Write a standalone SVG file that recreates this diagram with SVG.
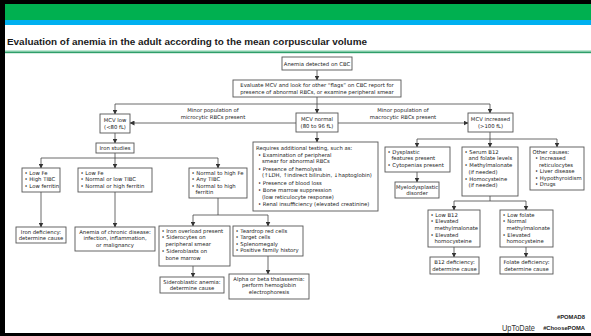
<svg xmlns="http://www.w3.org/2000/svg" width="591" height="336" viewBox="0 0 591 336">
<defs>
<marker id="ah" markerUnits="userSpaceOnUse" markerWidth="5" markerHeight="5" refX="4.5" refY="2.5" orient="auto">
<path d="M0,0 L5,2.5 L0,5 z" fill="#333"/>
</marker>
<style>
.box{fill:#fff;stroke:#555;stroke-width:0.9}
.t{font-family:"DejaVu Sans","Liberation Sans",sans-serif;font-size:5.3px;fill:#1a1a1a}
.c{text-anchor:middle}
.ln{stroke:#444;stroke-width:0.8;fill:none}
.ar{stroke:#444;stroke-width:0.8;fill:none;marker-end:url(#ah)}
.f{font-family:"Liberation Sans",Arial,sans-serif}
</style>
</defs>
<rect x="0" y="0" width="591" height="336" fill="#fff"/>
<rect x="0" y="0" width="591" height="4" fill="#000"/>
<rect x="0" y="4" width="591" height="16" fill="#00b050"/>
<rect x="0" y="20" width="591" height="5" fill="#00b0f0"/>
<rect x="0" y="0" width="5" height="336" fill="#000"/>
<rect x="0" y="333" width="591" height="3" fill="#000"/>
<rect x="5" y="50.5" width="586" height="1.2" fill="#7fcfa8"/>
<rect x="5" y="51.7" width="586" height="1.5" fill="#2e9e6a"/>
<text class="f" x="7" y="45" font-weight="bold" font-size="9" fill="#1a1a1a" textLength="360" lengthAdjust="spacingAndGlyphs">Evaluation of anemia in the adult according to the mean corpuscular volume</text>

<g id="connectors">
<path class="ar" d="M317,70 V80"/>
<path class="ar" d="M317,97 V113"/>
<path class="ln" d="M115,104 H490"/>
<path class="ar" d="M115,104 V114"/>
<path class="ar" d="M490,104 V113"/>
<path class="ar" d="M296,123 H130"/>
<path class="ar" d="M338,123 H468"/>
<path class="ar" d="M115,133 V143"/>
<path class="ln" d="M115,153 V158 M41,158 H218"/>
<path class="ar" d="M41,158 V168"/>
<path class="ar" d="M115,158 V168"/>
<path class="ar" d="M218,158 V168"/>
<path class="ar" d="M41,192 V227"/>
<path class="ar" d="M115,192 V227"/>
<path class="ln" d="M218,198 V215 M193,215 H268"/>
<path class="ar" d="M193,215 V226"/>
<path class="ar" d="M268,215 V226"/>
<path class="ar" d="M193,266 V277"/>
<path class="ar" d="M268,256 V274"/>
<path class="ar" d="M317,132 V142"/>
<path class="ln" d="M490,132 V139 M417,139 H557"/>
<path class="ar" d="M417,139 V147"/>
<path class="ar" d="M490,139 V147"/>
<path class="ar" d="M557,139 V147"/>
<path class="ar" d="M417,172 V182"/>
<path class="ln" d="M490,196 V201 M454,201 H526"/>
<path class="ar" d="M454,201 V210"/>
<path class="ar" d="M526,201 V210"/>
<path class="ar" d="M454,247 V257"/>
<path class="ar" d="M526,247 V257"/>
<text class="t c" x="213" y="112">Minor population of</text>
<text class="t c" x="213" y="118.5">microcytic RBCs present</text>
<text class="t c" x="403" y="112">Minor population of</text>
<text class="t c" x="403" y="118.5">macrocytic RBCs present</text>
</g>

<g id="anemia">
<rect class="box" x="282" y="57" width="70" height="13"/>
<text class="t c" x="317" y="65.5">Anemia detected on CBC</text>
</g>
<g id="evaluate">
<rect class="box" x="233" y="80" width="168" height="17"/>
<text class="t c" x="317" y="87">Evaluate MCV and look for other “flags” on CBC report for</text>
<text class="t c" x="317" y="94">presence of abnormal RBCs, or examine peripheral smear</text>
</g>
<g id="mcv-low">
<rect class="box" x="100" y="114" width="30" height="19"/>
<text class="t c" x="115" y="121.5">MCV low</text>
<text class="t c" x="115" y="128.5">(&lt;80 fL)</text>
</g>
<g id="mcv-normal">
<rect class="box" x="296" y="113" width="42" height="19"/>
<text class="t c" x="317" y="120.5">MCV normal</text>
<text class="t c" x="317" y="127.5">(80 to 96 fL)</text>
</g>
<g id="mcv-increased">
<rect class="box" x="468" y="113" width="45" height="19"/>
<text class="t c" x="490.5" y="120.5">MCV increased</text>
<text class="t c" x="490.5" y="127.5">(&gt;100 fL)</text>
</g>
<g id="iron-studies">
<rect class="box" x="96" y="143" width="38" height="10"/>
<text class="t c" x="115" y="150">Iron studies</text>
</g>
<g id="low-fe-high-tibc">
<rect class="box" x="22" y="168" width="38" height="24"/>
<text class="t" x="24.5" y="174.5">• Low Fe</text>
<text class="t" x="24.5" y="181">• High TIBC</text>
<text class="t" x="24.5" y="187.5">• Low ferritin</text>
</g>
<g id="low-fe-normal-tibc">
<rect class="box" x="78" y="168" width="74" height="24"/>
<text class="t" x="80.5" y="174.5">• Low Fe</text>
<text class="t" x="80.5" y="181">• Normal or low TIBC</text>
<text class="t" x="80.5" y="187.5">• Normal or high ferritin</text>
</g>
<g id="high-fe">
<rect class="box" x="189" y="168" width="58" height="30"/>
<text class="t" x="191.5" y="174.5">• Normal to high Fe</text>
<text class="t" x="191.5" y="181">• Any TIBC</text>
<text class="t" x="191.5" y="187.5">• Normal to high</text>
<text class="t" x="195.5" y="194">ferritin</text>
</g>
<g id="iron-deficiency">
<rect class="box" x="16" y="227" width="50" height="16"/>
<text class="t c" x="41" y="233.5">Iron deficiency:</text>
<text class="t c" x="41" y="240">determine cause</text>
</g>
<g id="chronic-disease">
<rect class="box" x="75" y="227" width="80" height="24"/>
<text class="t c" x="115" y="233.5">Anemia of chronic disease:</text>
<text class="t c" x="115" y="240">infection, inflammation,</text>
<text class="t c" x="115" y="246.5">or malignancy</text>
</g>
<g id="iron-overload">
<rect class="box" x="159" y="226" width="71" height="40"/>
<text class="t" x="161.5" y="232.5">• Iron overload present</text>
<text class="t" x="161.5" y="239">• Siderocytes on</text>
<text class="t" x="165.5" y="245.5">peripheral smear</text>
<text class="t" x="161.5" y="253">• Sideroblasts on</text>
<text class="t" x="165.5" y="259.5">bone marrow</text>
</g>
<g id="sideroblastic">
<rect class="box" x="160" y="277" width="64" height="16"/>
<text class="t c" x="192" y="283.5">Sideroblastic anemia:</text>
<text class="t c" x="192" y="290">determine cause</text>
</g>
<g id="teardrop">
<rect class="box" x="233" y="226" width="70" height="30"/>
<text class="t" x="235.5" y="232.5">• Teardrop red cells</text>
<text class="t" x="235.5" y="239">• Target cells</text>
<text class="t" x="235.5" y="245.5">• Splenomegaly</text>
<text class="t" x="235.5" y="252">• Positive family history</text>
</g>
<g id="thalassemia">
<rect class="box" x="229" y="274" width="80" height="25"/>
<text class="t c" x="269" y="280.5">Alpha or beta thalassemia:</text>
<text class="t c" x="269" y="287">perform hemoglobin</text>
<text class="t c" x="269" y="293.5">electrophoresis</text>
</g>
<g id="additional-testing">
<rect class="box" x="253" y="142" width="125" height="69"/>
<text class="t" x="256" y="149.5">Requires additional testing, such as:</text>
<text class="t" x="258" y="156.5">• Examination of peripheral</text>
<text class="t" x="262" y="163">smear for abnormal RBCs</text>
<text class="t" x="258" y="170.5">• Presence of hemolysis</text>
<text class="t" x="262" y="177">(↑LDH, ↑indirect bilirubin, ↓haptoglobin)</text>
<text class="t" x="258" y="184.5">• Presence of blood loss</text>
<text class="t" x="258" y="192">• Bone marrow suppression</text>
<text class="t" x="262" y="198.5">(low reticulocyte response)</text>
<text class="t" x="258" y="206">• Renal insufficiency (elevated creatinine)</text>
</g>
<g id="dysplastic">
<rect class="box" x="385" y="147" width="65" height="25"/>
<text class="t" x="387.5" y="153.5">• Dysplastic</text>
<text class="t" x="391.5" y="160">features present</text>
<text class="t" x="387.5" y="167">• Cytopenias present</text>
</g>
<g id="myelodysplastic">
<rect class="box" x="395" y="182" width="44" height="16"/>
<text class="t c" x="417" y="188.5">Myelodysplastic</text>
<text class="t c" x="417" y="195">disorder</text>
</g>
<g id="serum-b12">
<rect class="box" x="462" y="147" width="56" height="49"/>
<text class="t" x="464.5" y="153.5">• Serum B12</text>
<text class="t" x="468.5" y="160">and folate levels</text>
<text class="t" x="464.5" y="167">• Methylmalonate</text>
<text class="t" x="468.5" y="173.5">(if needed)</text>
<text class="t" x="464.5" y="180.5">• Homocysteine</text>
<text class="t" x="468.5" y="187">(if needed)</text>
</g>
<g id="other-causes">
<rect class="box" x="530" y="147" width="54" height="43"/>
<text class="t" x="532.5" y="153.5">Other causes:</text>
<text class="t" x="535" y="160">• Increased</text>
<text class="t" x="539" y="166.5">reticulocytes</text>
<text class="t" x="535" y="173">• Liver disease</text>
<text class="t" x="535" y="179.5">• Hypothyroidism</text>
<text class="t" x="535" y="186">• Drugs</text>
</g>
<g id="low-b12">
<rect class="box" x="428" y="210" width="52" height="37"/>
<text class="t" x="430.5" y="216.5">• Low B12</text>
<text class="t" x="430.5" y="223">• Elevated</text>
<text class="t" x="434.5" y="229.5">methylmalonate</text>
<text class="t" x="430.5" y="236.5">• Elevated</text>
<text class="t" x="434.5" y="243">homocysteine</text>
</g>
<g id="low-folate">
<rect class="box" x="500" y="210" width="53" height="37"/>
<text class="t" x="502.5" y="216.5">• Low folate</text>
<text class="t" x="502.5" y="223">• Normal</text>
<text class="t" x="506.5" y="229.5">methylmalonate</text>
<text class="t" x="502.5" y="236.5">• Elevated</text>
<text class="t" x="506.5" y="243">homocysteine</text>
</g>
<g id="b12-deficiency">
<rect class="box" x="430" y="257" width="49" height="17"/>
<text class="t c" x="454.5" y="264">B12 deficiency:</text>
<text class="t c" x="454.5" y="270.5">determine cause</text>
</g>
<g id="folate-deficiency">
<rect class="box" x="500" y="257" width="53" height="17"/>
<text class="t c" x="526.5" y="264">Folate deficiency:</text>
<text class="t c" x="526.5" y="270.5">determine cause</text>
</g>
<text class="f" x="502" y="331" font-size="8.5" fill="#333" textLength="33" lengthAdjust="spacingAndGlyphs">UpToDate</text>
<text class="f" x="585" y="318.5" text-anchor="end" font-weight="bold" font-size="5.8" fill="#222">#POMAD8</text>
<text class="f" x="585" y="329.5" text-anchor="end" font-weight="bold" font-size="5.8" fill="#222">#ChoosePOMA</text>
</svg>
